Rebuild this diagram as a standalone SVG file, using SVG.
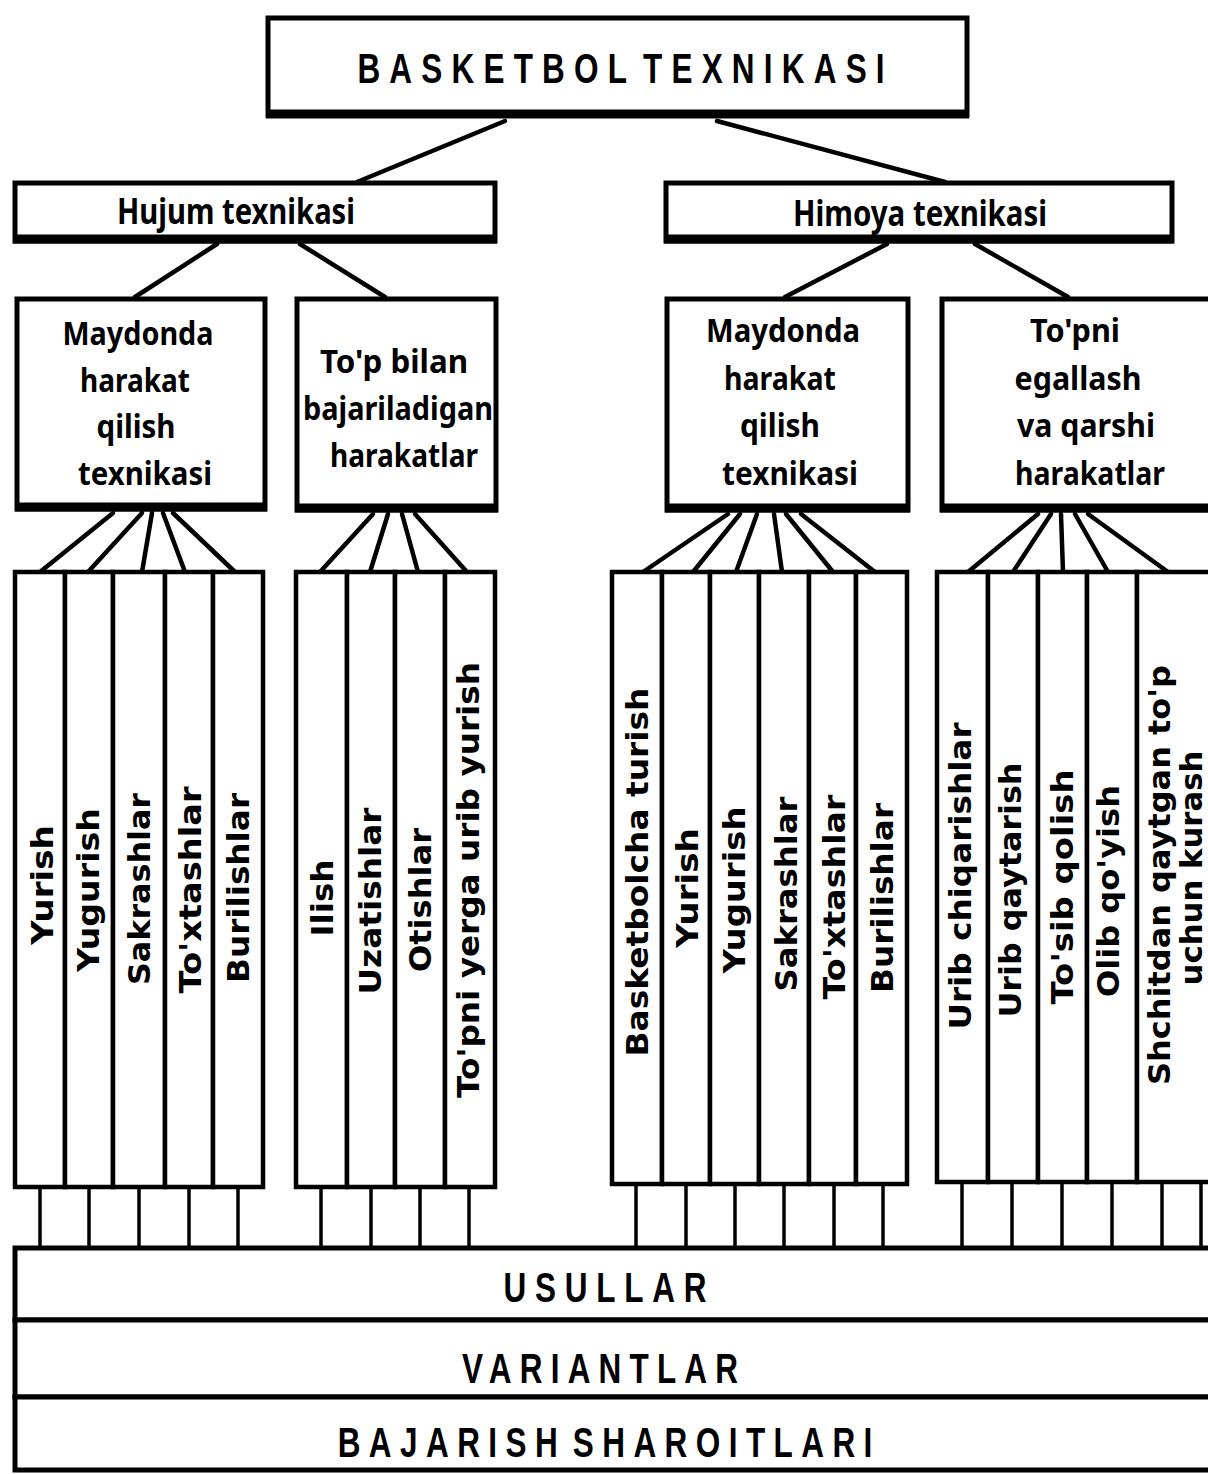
<svg xmlns="http://www.w3.org/2000/svg" width="1208" height="1474" viewBox="0 0 1208 1474">
<style>
.bg{fill:#fff}
.box{fill:#fff;stroke:#000;stroke-width:5}
.thick{stroke:#000;stroke-width:9}
.col{fill:#fff;stroke:#000;stroke-width:4.5}
.band{fill:#fff;stroke:#000;stroke-width:5}
#connectors line{stroke:#000;stroke-width:4.5;stroke-linecap:round}
#connectors .v{stroke-width:3.5}
.lbl{font-family:"Noto Sans","Open Sans","DejaVu Sans",sans-serif;font-weight:bold;font-size:32px;text-anchor:middle;fill:#000}
.lbl2{font-family:"Noto Sans","Open Sans","DejaVu Sans",sans-serif;font-weight:bold;font-size:35px;text-anchor:middle;fill:#000}
.vt{font-family:"DejaVu Sans","Verdana",sans-serif;font-weight:bold;font-size:30px;text-anchor:middle;dominant-baseline:central;fill:#000}
.cap{font-family:"Liberation Sans",Arial,sans-serif;font-weight:bold;font-size:42px;text-anchor:middle;fill:#000}
</style>
<rect class="bg" x="0" y="0" width="1208" height="1474"/>

<g id="connectors">
  <line x1="505" y1="121" x2="357" y2="182"/>
  <line x1="717" y1="121" x2="945" y2="182"/>
  <line x1="217" y1="244" x2="135" y2="297"/>
  <line x1="300" y1="244" x2="385" y2="297"/>
  <line x1="887" y1="244" x2="785" y2="297"/>
  <line x1="975" y1="244" x2="1068" y2="297"/>
  <line x1="113" y1="513" x2="40" y2="572"/>
  <line x1="142" y1="513" x2="88" y2="572"/>
  <line x1="152" y1="513" x2="142" y2="572"/>
  <line x1="163" y1="513" x2="185" y2="572"/>
  <line x1="173" y1="513" x2="235" y2="572"/>
  <line x1="373" y1="514" x2="320" y2="572"/>
  <line x1="388" y1="514" x2="370" y2="572"/>
  <line x1="402" y1="514" x2="418" y2="572"/>
  <line x1="415" y1="514" x2="467" y2="572"/>
  <line x1="728" y1="514" x2="643" y2="572"/>
  <line x1="740" y1="514" x2="693" y2="572"/>
  <line x1="757" y1="514" x2="736" y2="572"/>
  <line x1="774" y1="514" x2="782" y2="572"/>
  <line x1="786" y1="514" x2="833" y2="572"/>
  <line x1="801" y1="514" x2="875" y2="572"/>
  <line x1="1038" y1="514" x2="968" y2="572"/>
  <line x1="1051" y1="514" x2="1013" y2="572"/>
  <line x1="1061" y1="514" x2="1063" y2="572"/>
  <line x1="1075" y1="514" x2="1108" y2="572"/>
  <line x1="1088" y1="514" x2="1168" y2="572"/>
  <line class="v" x1="40" y1="1188" x2="40" y2="1248"/>
  <line class="v" x1="89" y1="1188" x2="89" y2="1248"/>
  <line class="v" x1="139" y1="1188" x2="139" y2="1248"/>
  <line class="v" x1="189" y1="1188" x2="189" y2="1248"/>
  <line class="v" x1="238" y1="1188" x2="238" y2="1248"/>
  <line class="v" x1="321" y1="1188" x2="321" y2="1248"/>
  <line class="v" x1="371" y1="1188" x2="371" y2="1248"/>
  <line class="v" x1="420" y1="1188" x2="420" y2="1248"/>
  <line class="v" x1="469" y1="1188" x2="469" y2="1248"/>
  <line class="v" x1="636" y1="1185" x2="636" y2="1248"/>
  <line class="v" x1="686" y1="1185" x2="686" y2="1248"/>
  <line class="v" x1="735" y1="1185" x2="735" y2="1248"/>
  <line class="v" x1="784" y1="1185" x2="784" y2="1248"/>
  <line class="v" x1="834" y1="1185" x2="834" y2="1248"/>
  <line class="v" x1="883" y1="1185" x2="883" y2="1248"/>
  <line class="v" x1="962" y1="1183" x2="962" y2="1248"/>
  <line class="v" x1="1012" y1="1183" x2="1012" y2="1248"/>
  <line class="v" x1="1062" y1="1183" x2="1062" y2="1248"/>
  <line class="v" x1="1112" y1="1183" x2="1112" y2="1248"/>
  <line class="v" x1="1162" y1="1183" x2="1162" y2="1248"/>
  <line class="v" x1="1201" y1="1183" x2="1201" y2="1248"/>
</g>

<g id="basketbol-texnikasi">
  <rect class="box" x="268" y="18" width="699" height="97"/>
  <line class="thick" x1="266" y1="114" x2="969" y2="114"/>
  <text class="cap" transform="translate(621,83) scale(0.75,1)" textLength="703" lengthAdjust="spacing" word-spacing="-14" font-size="43">BASKETBOL TEXNIKASI</text>
</g>

<g id="hujum-texnikasi">
  <rect class="box" x="15" y="183" width="480" height="58"/>
  <line class="thick" x1="13" y1="239" x2="497" y2="239"/>
  <text class="lbl2" x="236" y="224" textLength="238" lengthAdjust="spacingAndGlyphs">Hujum texnikasi</text>
</g>

<g id="himoya-texnikasi">
  <rect class="box" x="666" y="183" width="506" height="58"/>
  <line class="thick" x1="664" y1="239" x2="1174" y2="239"/>
  <text class="lbl2" x="920" y="226" textLength="254" lengthAdjust="spacingAndGlyphs">Himoya texnikasi</text>
</g>

<g id="hujum-maydonda">
  <rect class="box" x="17" y="299" width="248" height="210"/>
  <line class="thick" x1="15" y1="507" x2="267" y2="507"/>
  <text class="lbl" x="138" y="345" textLength="151" lengthAdjust="spacingAndGlyphs">Maydonda</text>
  <text class="lbl" x="135" y="392" textLength="110" lengthAdjust="spacingAndGlyphs">harakat</text>
  <text class="lbl" x="136" y="438" textLength="79" lengthAdjust="spacingAndGlyphs">qilish</text>
  <text class="lbl" x="145" y="485" textLength="134" lengthAdjust="spacingAndGlyphs">texnikasi</text>
</g>

<g id="hujum-top-bilan">
  <rect class="box" x="297" y="299" width="199" height="211"/>
  <line class="thick" x1="295" y1="508" x2="498" y2="508"/>
  <text class="lbl" x="394" y="373" textLength="148" lengthAdjust="spacingAndGlyphs">To'p bilan</text>
  <text class="lbl" x="398" y="420" textLength="190" lengthAdjust="spacingAndGlyphs">bajariladigan</text>
  <text class="lbl" x="404" y="467" textLength="148" lengthAdjust="spacingAndGlyphs">harakatlar</text>
</g>

<g id="himoya-maydonda">
  <rect class="box" x="667" y="299" width="241" height="211"/>
  <line class="thick" x1="665" y1="508" x2="910" y2="508"/>
  <text class="lbl" x="783" y="342" textLength="154" lengthAdjust="spacingAndGlyphs">Maydonda</text>
  <text class="lbl" x="780" y="390" textLength="112" lengthAdjust="spacingAndGlyphs">harakat</text>
  <text class="lbl" x="780" y="437" textLength="80" lengthAdjust="spacingAndGlyphs">qilish</text>
  <text class="lbl" x="790" y="485" textLength="136" lengthAdjust="spacingAndGlyphs">texnikasi</text>
</g>

<g id="himoya-topni-egallash">
  <rect class="box" x="942" y="299" width="290" height="211"/>
  <line class="thick" x1="940" y1="508" x2="1210" y2="508"/>
  <text class="lbl" x="1075" y="342" textLength="90" lengthAdjust="spacingAndGlyphs">To'pni</text>
  <text class="lbl" x="1078" y="390" textLength="127" lengthAdjust="spacingAndGlyphs">egallash</text>
  <text class="lbl" x="1086" y="437" textLength="138" lengthAdjust="spacingAndGlyphs">va qarshi</text>
  <text class="lbl" x="1090" y="485" textLength="150" lengthAdjust="spacingAndGlyphs">harakatlar</text>
</g>

<g id="a-yurish"><rect class="col" x="15" y="572" width="50" height="615"/><text class="vt" transform="translate(42,885) rotate(-90)" textLength="120" lengthAdjust="spacingAndGlyphs">Yurish</text></g>
<g id="a-yugurish"><rect class="col" x="65" y="572" width="48" height="615"/><text class="vt" transform="translate(88,890) rotate(-90)" textLength="164" lengthAdjust="spacingAndGlyphs">Yugurish</text></g>
<g id="a-sakrashlar"><rect class="col" x="113" y="572" width="52" height="615"/><text class="vt" transform="translate(139,889) rotate(-90)" textLength="192" lengthAdjust="spacingAndGlyphs">Sakrashlar</text></g>
<g id="a-toxtashlar"><rect class="col" x="165" y="572" width="48" height="615"/><text class="vt" transform="translate(190,890) rotate(-90)" textLength="207" lengthAdjust="spacingAndGlyphs">To'xtashlar</text></g>
<g id="a-burilishlar"><rect class="col" x="213" y="572" width="50" height="615"/><text class="vt" transform="translate(238,888) rotate(-90)" textLength="190" lengthAdjust="spacingAndGlyphs">Burilishlar</text></g>

<g id="b-ilish"><rect class="col" x="296" y="572" width="51" height="615"/><text class="vt" transform="translate(322,898) rotate(-90)" textLength="77" lengthAdjust="spacingAndGlyphs">Ilish</text></g>
<g id="b-uzatishlar"><rect class="col" x="347" y="572" width="48" height="615"/><text class="vt" transform="translate(370,901) rotate(-90)" textLength="187" lengthAdjust="spacingAndGlyphs">Uzatishlar</text></g>
<g id="b-otishlar"><rect class="col" x="395" y="572" width="50" height="615"/><text class="vt" transform="translate(420,900) rotate(-90)" textLength="144" lengthAdjust="spacingAndGlyphs">Otishlar</text></g>
<g id="b-topni-yerga"><rect class="col" x="445" y="572" width="50" height="615"/><text class="vt" transform="translate(468,880) rotate(-90)" textLength="436" lengthAdjust="spacingAndGlyphs">To'pni yerga urib yurish</text></g>

<g id="c-basketbolcha"><rect class="col" x="612" y="572" width="50" height="612"/><text class="vt" transform="translate(637,872) rotate(-90)" textLength="369" lengthAdjust="spacingAndGlyphs">Basketbolcha turish</text></g>
<g id="c-yurish"><rect class="col" x="662" y="572" width="48" height="612"/><text class="vt" transform="translate(687,888) rotate(-90)" textLength="120" lengthAdjust="spacingAndGlyphs">Yurish</text></g>
<g id="c-yugurish"><rect class="col" x="710" y="572" width="49" height="612"/><text class="vt" transform="translate(734,890) rotate(-90)" textLength="167" lengthAdjust="spacingAndGlyphs">Yugurish</text></g>
<g id="c-sakrashlar"><rect class="col" x="759" y="572" width="50" height="612"/><text class="vt" transform="translate(786,894) rotate(-90)" textLength="195" lengthAdjust="spacingAndGlyphs">Sakrashlar</text></g>
<g id="c-toxtashlar"><rect class="col" x="809" y="572" width="47" height="612"/><text class="vt" transform="translate(834,897) rotate(-90)" textLength="205" lengthAdjust="spacingAndGlyphs">To'xtashlar</text></g>
<g id="c-burilishlar"><rect class="col" x="856" y="572" width="51" height="612"/><text class="vt" transform="translate(882,898) rotate(-90)" textLength="190" lengthAdjust="spacingAndGlyphs">Burilishlar</text></g>

<g id="d-urib-chiqarishlar"><rect class="col" x="937" y="572" width="51" height="610"/><text class="vt" transform="translate(960,876) rotate(-90)" textLength="307" lengthAdjust="spacingAndGlyphs">Urib chiqarishlar</text></g>
<g id="d-urib-qaytarish"><rect class="col" x="988" y="572" width="50" height="610"/><text class="vt" transform="translate(1010,890) rotate(-90)" textLength="255" lengthAdjust="spacingAndGlyphs">Urib qaytarish</text></g>
<g id="d-tosib-qolish"><rect class="col" x="1038" y="572" width="49" height="610"/><text class="vt" transform="translate(1062,887) rotate(-90)" textLength="235" lengthAdjust="spacingAndGlyphs">To'sib qolish</text></g>
<g id="d-olib-qoyish"><rect class="col" x="1087" y="572" width="50" height="610"/><text class="vt" transform="translate(1108,891) rotate(-90)" textLength="212" lengthAdjust="spacingAndGlyphs">Olib qo'yish</text></g>
<g id="d-shchitdan"><rect class="col" x="1137" y="572" width="100" height="610"/><text class="vt" transform="translate(1159,875) rotate(-90)" textLength="420" lengthAdjust="spacingAndGlyphs">Shchitdan qaytgan to'p</text><text class="vt" font-size="27" transform="translate(1191,868) rotate(-90)" textLength="235" lengthAdjust="spacingAndGlyphs">uchun kurash</text></g>

<g id="usullar">
  <rect class="band" x="15" y="1248" width="1220" height="72"/>
  <text class="cap" transform="translate(605,1302) scale(0.75,1)" textLength="271" lengthAdjust="spacing">USULLAR</text>
</g>
<g id="variantlar">
  <rect class="band" x="15" y="1320" width="1220" height="77"/>
  <text class="cap" transform="translate(600,1383) scale(0.75,1)" textLength="368" lengthAdjust="spacing">VARIANTLAR</text>
</g>
<g id="bajarish-sharoitlari">
  <rect class="band" x="15" y="1397" width="1220" height="73"/>
  <text class="cap" transform="translate(605,1457) scale(0.75,1)" textLength="713" lengthAdjust="spacing" word-spacing="-14">BAJARISH SHAROITLARI</text>
</g>
</svg>
